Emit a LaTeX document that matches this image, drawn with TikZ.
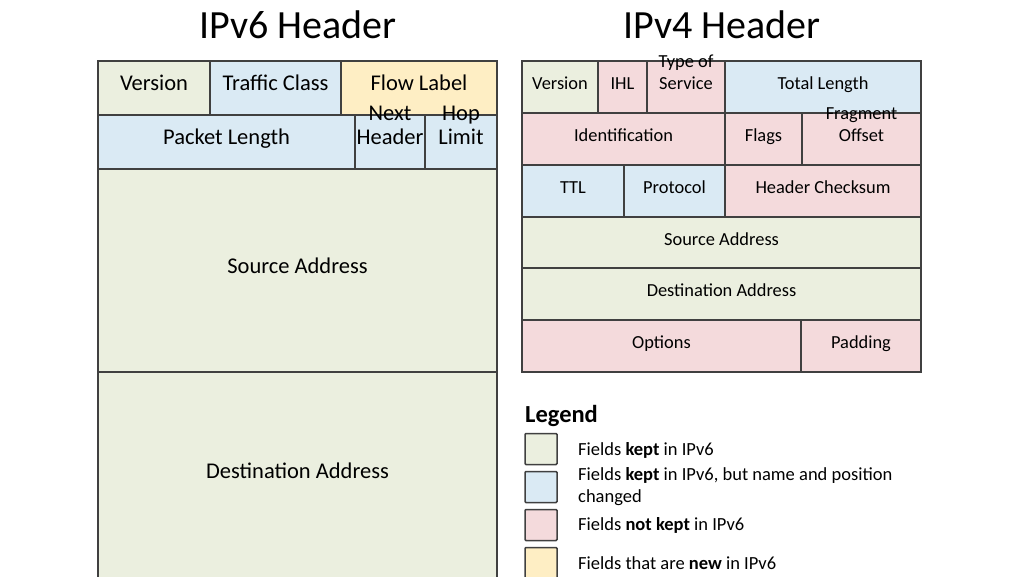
\documentclass[tikz,border=0pt]{standalone}
\usepackage{fontspec}
\setmainfont{Carlito}
\definecolor{cg}{HTML}{EBEFDF}
\definecolor{cb}{HTML}{DAEAF4}
\definecolor{cp}{HTML}{F4DADC}
\definecolor{cy}{HTML}{FEEEC4}
\definecolor{ln}{HTML}{404040}
\newcommand\fld[7]{\pgfmathsetmacro\w{#4-#2}\pgfmathsetmacro\h{#5-#3}%
\node[cell,fill=#6,minimum width=\w pt,minimum height=\h pt] (#1) at ({(#2+#4)/2},{(#3+#5)/2}) {#7};}
\begin{document}
\begin{tikzpicture}[x=1pt,y=-1pt,
 cell/.style={draw=ln,line width=1.2pt,inner sep=0pt,align=center,text height=0.72em,text depth=0.22em,font=\fontsize{22.5}{24}\selectfont},
 small/.style={font=\fontsize{18.4}{22}\selectfont},
 lbox/.style={draw=ln,line width=1.5pt,rounded corners=1pt,minimum width=32pt,minimum height=31pt,inner sep=0pt},
 ltext/.style={anchor=west,font=\fontsize{18.5}{22}\selectfont,align=left,inner sep=0pt}]
\useasboundingbox (0,0) rectangle (1024,576);
\node (t6) at (298,25) {\fontsize{40}{44}\selectfont IPv6 Header};
\node (t4) at (722,25) {\fontsize{40}{44}\selectfont IPv4 Header};
% IPv6
\fld{v6ver}{98}{61}{210}{115}{cg}{Version}
\fld{v6tc}{210}{61}{341}{115}{cb}{Traffic Class}
\fld{v6fl}{341}{61}{497}{115}{cy}{Flow Label}
\fld{v6pl}{98}{115}{355}{169}{cb}{Packet Length}
\fld{v6nh}{355}{115}{425}{169}{cb}{Next\\Header}
\fld{v6hl}{425}{115}{497}{169}{cb}{Hop\\Limit}
\fld{v6sa}{98}{169}{497}{372}{cg}{Source Address}
\fld{v6da}{98}{372}{497}{580}{cg}{Destination Address}
% IPv4
\tikzset{cell/.append style={small}}
\fld{v4ver}{522}{61}{598}{113}{cg}{Version}
\fld{v4ihl}{598}{61}{647}{113}{cp}{IHL}
\fld{v4tos}{647}{61}{725}{113}{cp}{Type of\\Service}
\fld{v4tl}{725}{61}{921}{113}{cb}{Total Length}
\fld{v4id}{522}{113}{725}{165}{cp}{Identification}
\fld{v4fl}{725}{113}{802}{165}{cp}{Flags}
\fld{v4fo}{802}{113}{921}{165}{cp}{Fragment\\Offset}
\fld{v4ttl}{522}{165}{624}{217}{cb}{TTL}
\fld{v4pr}{624}{165}{725}{217}{cb}{Protocol}
\fld{v4hc}{725}{165}{921}{217}{cp}{Header Checksum}
\fld{v4sa}{522}{217}{921}{268}{cg}{Source Address}
\fld{v4da}{522}{268}{921}{320}{cg}{Destination Address}
\fld{v4op}{522}{320}{801}{372}{cp}{Options}
\fld{v4pd}{801}{320}{921}{372}{cp}{Padding}
% Legend
\node[anchor=west,inner sep=0pt] (lg) at (525,416) {\fontsize{24.5}{26}\selectfont\bfseries Legend};
\node[lbox,fill=cg] (l1) at (541,449) {};
\node[lbox,fill=cb] (l2) at (541,487) {};
\node[lbox,fill=cp] (l3) at (541,525) {};
\node[lbox,fill=cy] (l4) at (541,563) {};
\node[ltext] (lt1) at (578,450) {Fields \textbf{kept} in IPv6};
\node[ltext] (lt2) at (578,487) {Fields \textbf{kept} in IPv6, but name and position\\changed};
\node[ltext] (lt3) at (578,525) {Fields \textbf{not kept} in IPv6};
\node[ltext] (lt4) at (578,563) {Fields that are \textbf{new} in IPv6};
\end{tikzpicture}
\end{document}
